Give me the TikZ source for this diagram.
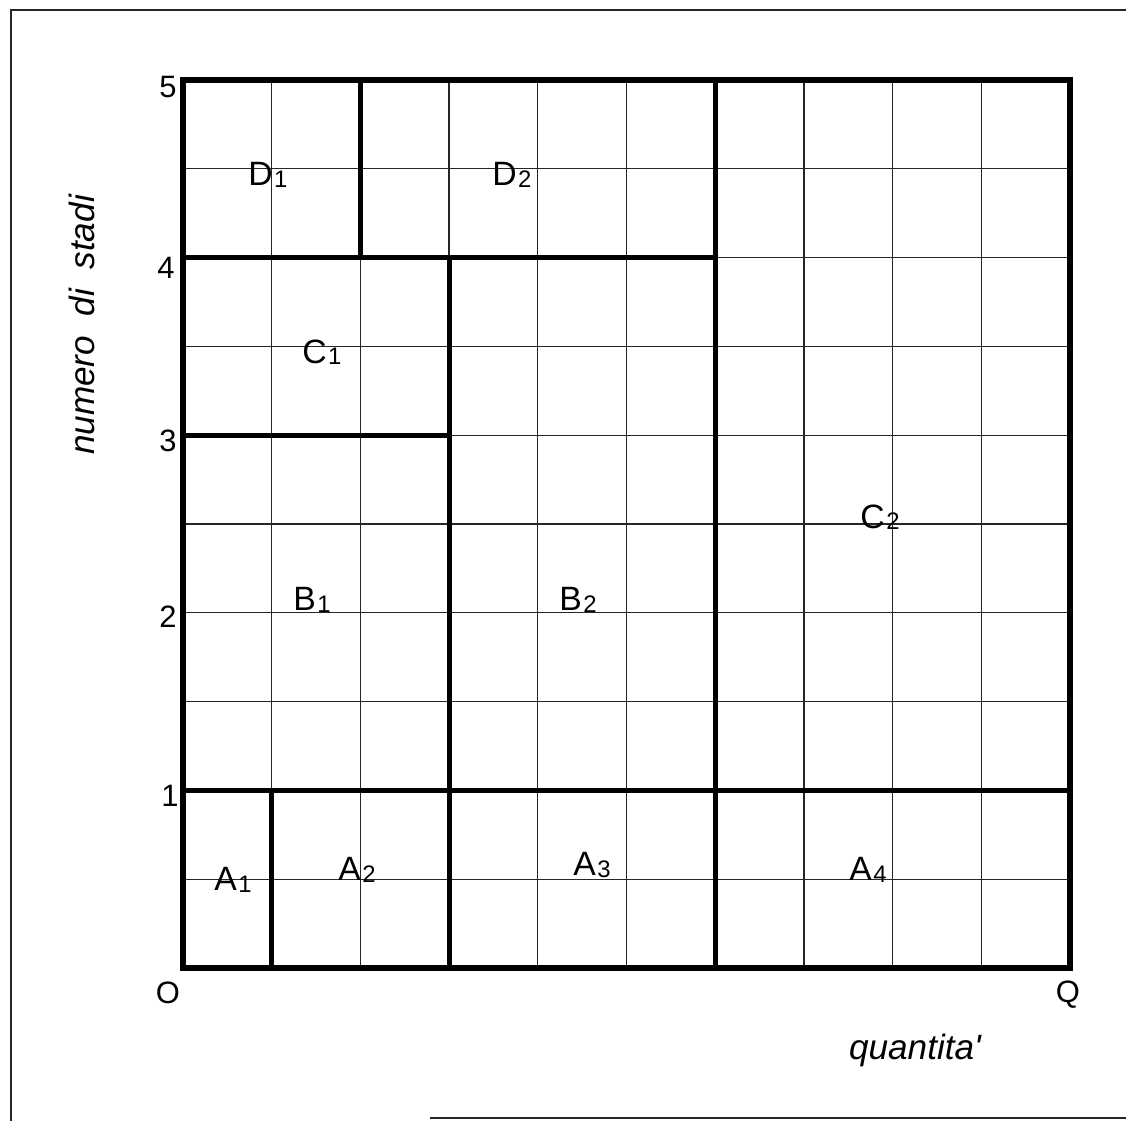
\documentclass[tikz,border=0pt]{standalone}
\usepackage{fontspec}
\setmainfont{Liberation Sans}
\newfontfamily\plainsans{Liberation Sans}
\begin{document}
\begin{tikzpicture}[x=0.025cm,y=-0.025cm,
  thin grid/.style={line width=0.9pt,black!85},
  thick frame/.style={line width=3.6pt,black,line cap=rect},
  area/.style={font=\fontsize{24}{26}\selectfont,inner sep=0pt},
  axisnum/.style={font=\fontsize{22}{24}\selectfont,inner sep=0pt},
  axistitle/.style={font=\fontsize{25}{27}\selectfont\itshape,inner sep=0pt},
  border/.style={line width=1.2pt,black!85}]
\useasboundingbox (0,0) rectangle (1126,1121);
% page frame
\draw[border] (11,1121) -- (11,10) -- (1126,10);
\draw[border] (430,1118) -- (1126,1118);
\begin{scope}[shift={(183,968)},xscale=88.7,yscale=-88.8]
  % fine grid
  \foreach \i in {1,...,9} {
    \draw[thin grid] (\i,0) -- (\i,10);
    \draw[thin grid] (0,\i) -- (10,\i);
  }
  % thick boundaries
  \draw[thick frame] (0,0) rectangle (10,10);
  \draw[thick frame] (0,2) -- (10,2);
  \draw[thick frame] (1,0) -- (1,2);
  \draw[thick frame] (3,0) -- (3,8);
  \draw[thick frame] (6,0) -- (6,10);
  \draw[thick frame] (0,6) -- (3,6);
  \draw[thick frame] (0,8) -- (6,8);
  \draw[thick frame] (2,8) -- (2,10);
\end{scope}
% area labels
\newcommand{\lab}[2]{#1\kern1pt\raisebox{-1pt}{\fontsize{17}{18}\selectfont #2}}
\node[area] (D1) at (268,175) {\lab{D}{1}};
\node[area] (D2) at (512,175) {\lab{D}{2}};
\node[area] (C1) at (322,352) {\lab{C}{1}};
\node[area] (C2) at (880,517) {\lab{C}{2}};
\node[area] (B1) at (312,600) {\lab{B}{1}};
\node[area] (B2) at (578,600) {\lab{B}{2}};
\node[area] (A1) at (233,880) {\lab{A}{1}};
\node[area] (A2) at (357,870) {\lab{A}{2}};
\node[area] (A3) at (592,865) {\lab{A}{3}};
\node[area] (A4) at (868,870) {\lab{A}{4}};
% axis numbers
\node[axisnum] (n5) at (168,87) {5};
\node[axisnum] (n4) at (166,268) {4};
\node[axisnum] (n3) at (168,441) {3};
\node[axisnum] (n2) at (168,617) {2};
\node[axisnum] (n1) at (170,796) {1};
\node[axisnum] (n0) at (168,993) {O};
\node[axisnum] (nq) at (1068,995) {Q};
% axis titles
\node[axistitle,rotate=90] (ytitle) at (82,325) {numero\ \ di\ \ stadi};
\node[axistitle] (xtitle) at (915,1050) {quantita{\plainsans\itshape '}};
\end{tikzpicture}
\end{document}
